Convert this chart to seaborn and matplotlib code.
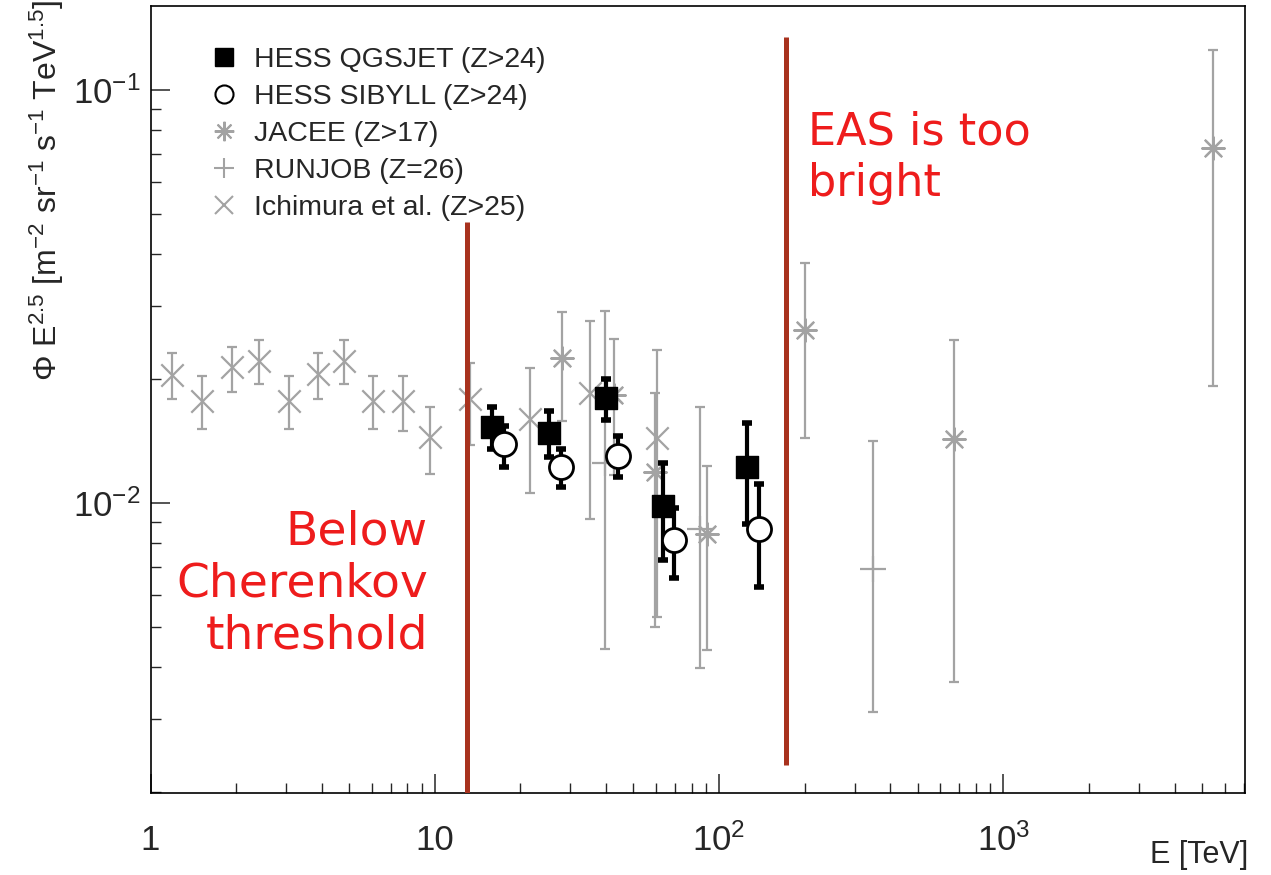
import numpy as np
import pandas as pd
import matplotlib
matplotlib.use("Agg")
import matplotlib.pyplot as plt
import seaborn as sns
from matplotlib.lines import Line2D
from matplotlib.ticker import LogLocator, FixedLocator, FixedFormatter, NullFormatter

# ---------------- data ----------------
hess_q_E = [15.9, 25.2, 40.0, 63.5, 125.4]
hess_q_F = [0.01528, 0.01477, 0.01795, 0.00983, 0.01223]
hess_q_hi = [0.01707, 0.01670, 0.01996, 0.01250, 0.01562]
hess_q_lo = [0.01351, 0.01293, 0.01589, 0.00728, 0.00890]

hess_s_E = [17.5, 27.8, 44.1, 69.4, 138.1]
hess_s_F = [0.01390, 0.01223, 0.01300, 0.00814, 0.00865]
hess_s_hi = [0.01536, 0.01351, 0.01453, 0.00972, 0.01112]
hess_s_lo = [0.01223, 0.01093, 0.01156, 0.00658, 0.00626]

jacee_E = [28.0, 42.7, 59.5, 90.7, 201.0, 668.0, 5460.0]
jacee_F = [0.02244, 0.01826, 0.01189, 0.00841, 0.02623, 0.01429, 0.0724]
jacee_hi = [0.02901, 0.02494, 0.01846, 0.01229, 0.0381, 0.02483, 0.125]
jacee_lo = [0.0158, 0.01169, 0.00501, 0.00441, 0.01437, 0.00369, 0.0192]

runjob_E = [39.7, 85.7, 346.6]
runjob_F = [0.0125, 0.00865, 0.00692]
runjob_hi = [0.02917, 0.01707, 0.01413]
runjob_lo = [0.00443, 0.00399, 0.00312]

ichi_E = [1.19, 1.52, 1.94, 2.41, 3.07, 3.88, 4.80, 6.06, 7.73, 9.62, 13.3, 21.6, 35.2, 60.5]
ichi_F = [0.0204, 0.0177, 0.0213, 0.0221, 0.0177, 0.0205, 0.0221, 0.0177, 0.0177,
          0.01445, 0.0179, 0.01597, 0.01846, 0.01437]
ichi_hi = [0.0231, 0.0203, 0.0239, 0.0248, 0.0203, 0.0231, 0.0248, 0.0203, 0.0203,
           0.0171, 0.02183, 0.02123, 0.02758, 0.02348]
ichi_lo = [0.0179, 0.0151, 0.0186, 0.0194, 0.0151, 0.0179, 0.0194, 0.0151, 0.0149,
           0.01175, 0.01381, 0.01057, 0.00915, 0.0053]

threshold_lines = [(13.0, 0.001985, 0.0479), (172.0, 0.00232, 0.134)]

series_labels = ["HESS QGSJET (Z>24)", "HESS SIBYLL (Z>24)", "JACEE (Z>17)",
                 "RUNJOB (Z=26)", "Ichimura et al. (Z>25)"]

x_ticks = [1, 10, 100, 1000]
x_ticklabels = ["1", "10", "$10^{2}$", "$10^{3}$"]
y_ticks = [0.01, 0.1]
y_ticklabels = ["$10^{\\mathsf{-2}}$", "$10^{\\mathsf{-1}}$"]

# ---------------- style ----------------
sns.set_style("ticks")
plt.rcParams["font.family"] = ["Liberation Sans", "DejaVu Sans"]
plt.rcParams["mathtext.fontset"] = "custom"
plt.rcParams["mathtext.rm"] = "Liberation Sans"
plt.rcParams["mathtext.sf"] = "Liberation Sans"
plt.rcParams["mathtext.it"] = "Liberation Sans:italic"
plt.rcParams["mathtext.bf"] = "Liberation Sans:bold"

GREY = "#a3a3a3"
RED_LINE = "#a8321e"
RED_TEXT = "#ee1c1c"
STAR = (8, 2, 0)

W, H = 1271, 875
fig = plt.figure(figsize=(W / 100, H / 100), dpi=100)
ax = fig.add_axes([150.5 / W, 1 - 793 / H, (1245 - 150.5) / W, (793 - 6) / H])
ax.set_xscale("log")
ax.set_yscale("log")
ax.set_xlim(1, 7080)
ax.set_ylim(0.001985, 0.1597)


def errbars(E, F, hi, lo, color, lw, cap, capthick, z):
    F = np.array(F)
    yerr = np.vstack([F - np.array(lo), np.array(hi) - F])
    ax.errorbar(E, F, yerr=yerr, fmt="none", ecolor=color, elinewidth=lw,
                capsize=cap, capthick=capthick, zorder=z)


# grey series
errbars(ichi_E, ichi_F, ichi_hi, ichi_lo, GREY, 1.6, 3.5, 1.6, 2)
errbars(jacee_E, jacee_F, jacee_hi, jacee_lo, GREY, 1.6, 3.5, 1.6, 2)
errbars(runjob_E, runjob_F, runjob_hi, runjob_lo, GREY, 1.6, 3.5, 1.6, 2)

df_ichi = pd.DataFrame({"E": ichi_E, "F": ichi_F})
df_jac = pd.DataFrame({"E": jacee_E, "F": jacee_F})
df_run = pd.DataFrame({"E": runjob_E, "F": runjob_F})
sns.scatterplot(data=df_ichi, x="E", y="F", ax=ax, marker="x", s=260, color=GREY,
                linewidth=1.6, zorder=2, legend=False)
sns.scatterplot(data=df_jac, x="E", y="F", ax=ax, marker=STAR, s=260, color=GREY,
                linewidth=1.6, zorder=2, legend=False)
sns.scatterplot(data=df_run, x="E", y="F", ax=ax, marker="+", s=330, color=GREY,
                linewidth=1.6, zorder=2, legend=False)

# red threshold lines
for xv, y0, y1 in threshold_lines:
    ax.plot([xv, xv], [y0, y1], color=RED_LINE, lw=3.6, zorder=3, solid_capstyle="butt")

# HESS
errbars(hess_q_E, hess_q_F, hess_q_hi, hess_q_lo, "black", 3.0, 3.5, 4.0, 4)
errbars(hess_s_E, hess_s_F, hess_s_hi, hess_s_lo, "black", 3.0, 3.5, 4.0, 4)
df_q = pd.DataFrame({"E": hess_q_E, "F": hess_q_F})
df_s = pd.DataFrame({"E": hess_s_E, "F": hess_s_F})
sns.scatterplot(data=df_q, x="E", y="F", ax=ax, marker="s", s=250, color="black",
                edgecolor="black", linewidth=1, zorder=5, legend=False)
sns.scatterplot(data=df_s, x="E", y="F", ax=ax, marker="o", s=300, facecolor="white",
                edgecolor="black", linewidth=2, zorder=5, legend=False)

# ticks
ax.xaxis.set_major_locator(FixedLocator(x_ticks))
ax.xaxis.set_major_formatter(FixedFormatter(x_ticklabels))
ax.xaxis.set_minor_locator(LogLocator(base=10, subs=np.arange(2, 10)))
ax.xaxis.set_minor_formatter(NullFormatter())
ax.yaxis.set_major_locator(FixedLocator(y_ticks))
ax.yaxis.set_major_formatter(FixedFormatter(y_ticklabels))
ax.yaxis.set_minor_locator(LogLocator(base=10, subs=np.arange(2, 10)))
ax.yaxis.set_minor_formatter(NullFormatter())
ax.tick_params(axis="both", which="major", direction="in", length=14, width=1.1,
               labelsize=25, top=False, right=False)
ax.tick_params(axis="both", which="minor", direction="in", length=7, width=1.0,
               top=False, right=False)
ax.tick_params(axis="x", which="major", pad=22)
ax.tick_params(axis="y", which="major", pad=7)
for sp in ax.spines.values():
    sp.set_linewidth(1.2)
    sp.set_color("black")
ax.set_xlabel("")
ax.set_ylabel("")

fig.text(1248 / W, 1 - 855 / H, "E [TeV]", ha="right", va="center", fontsize=22)
fig.text(47 / W, 1 - 0 / H,
         r"$\Phi$ E$^{2.5}$ [m$^{-2}$ sr$^{-1}$ s$^{-1}$ TeV$^{1.5}$]",
         rotation=90, ha="center", va="top", fontsize=23)

# annotations
fig.text(808 / W, 1 - 158 / H, "EAS is too\nbright", ha="left", va="center",
         fontsize=32, color=RED_TEXT, family=["DejaVu Sans"], linespacing=1.25)
fig.text(428 / W, 1 - 584 / H, "Below\nCherenkov\nthreshold", ha="right", va="center",
         fontsize=34, color=RED_TEXT, family=["DejaVu Sans"], linespacing=1.2)

# legend
handles = [
    Line2D([], [], marker="s", ls="none", color="black", markersize=13),
    Line2D([], [], marker="o", ls="none", markerfacecolor="white",
           markeredgecolor="black", markeredgewidth=1.5, markersize=13),
    Line2D([], [], marker=STAR, ls="none", color=GREY, markersize=14, markeredgewidth=1.5),
    Line2D([], [], marker="+", ls="none", color=GREY, markersize=15, markeredgewidth=1.5),
    Line2D([], [], marker="x", ls="none", color=GREY, markersize=13, markeredgewidth=1.5),
]
leg = ax.legend(handles, series_labels, loc="upper left",
                bbox_to_anchor=(198 / W, 1 - 36 / H), bbox_transform=fig.transFigure,
                frameon=False, fontsize=20.5, handlelength=1.0, handletextpad=0.55,
                labelspacing=0.38, borderaxespad=0)

fig.savefig("out.png", dpi=100)
